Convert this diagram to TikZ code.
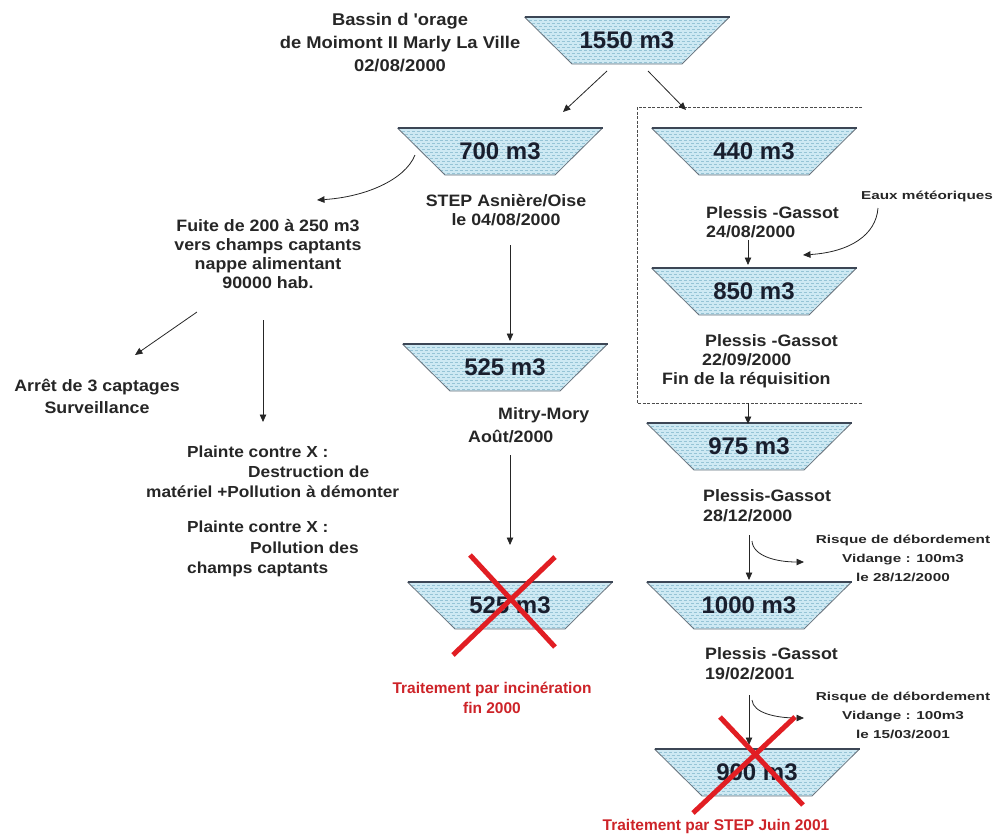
\documentclass[tikz,border=0pt]{standalone}
\usepackage{fontspec}
\setmainfont{Liberation Sans}
\newfontfamily\widefont[FakeStretch=1.08]{Liberation Sans}
\newfontfamily\smallfont[FakeStretch=1.33]{Liberation Sans}
\usetikzlibrary{arrows.meta,calc}
\definecolor{tankblue}{RGB}{206,233,243}
\definecolor{tankdash}{RGB}{150,196,214}
\definecolor{tankedgec}{RGB}{105,115,125}
\definecolor{tanktopc}{RGB}{60,70,85}
\definecolor{tanktext}{RGB}{25,30,45}
\definecolor{xred}{RGB}{225,30,35}
\definecolor{redtext}{RGB}{205,35,40}
\newcommand{\tank}[4]{%
  \begin{scope}[shift={(#2,#3)}]
    \fill[tankblue] (-102.5,0) -- (102.5,0) -- (55,47) -- (-55,47) -- cycle;
    \begin{scope}
      \clip (-102.5,0) -- (102.5,0) -- (55,47) -- (-55,47) -- cycle;
      \foreach \yy in {3,9,...,46} \draw[tankwave] (-103,\yy) -- (103,\yy);
      \foreach \yy in {6,12,...,46} \draw[tankwave, dash phase=2.5pt] (-103,\yy) -- (103,\yy);
    \end{scope}
    \draw[tankedge] (102.5,0) -- (55,47) -- (-55,47) -- (-102.5,0);
    \draw[tanktop] (-102.5,0) -- (102.5,0);
    \node[tank] (#1) at (0,23.5) {#4};
  \end{scope}
}
\begin{document}
\begin{tikzpicture}[x=1pt,y=-1pt,
  tank/.style={minimum width=205pt, minimum height=47pt, inner sep=0pt,
    font=\bfseries\fontsize{24}{26}\selectfont, text=tanktext},
  tankwave/.style={draw=tankdash, line width=0.9pt, dash pattern=on 3pt off 2pt},
  tankedge/.style={draw=tankedgec, line width=0.8pt},
  tanktop/.style={draw=tanktopc, line width=1.6pt},
  lbl/.style={inner sep=0pt, font=\widefont\bfseries\fontsize{16.5}{19}\selectfont, text=black!85},
  small/.style={inner sep=0pt, font=\smallfont\bfseries\fontsize{11.5}{19}\selectfont, text=black!85, align=center},
  redlbl/.style={inner sep=0pt, font=\bfseries\fontsize{15.5}{20}\selectfont, text=redtext, align=center},
  arr/.style={-{Triangle[length=7.5pt,width=6.5pt]}, line width=0.8pt, draw=black!85},
  boxdash/.style={draw=black!70, line width=0.8pt, dash pattern=on 3pt off 1.5pt},
  redx/.style={draw=xred, line width=5pt}
]
\useasboundingbox (0,0) rectangle (999,836);

% tanks
\tank{t1550}{627}{17}{1550 m3}
\tank{t700}{500}{128}{700 m3}
\tank{t440}{754}{128}{440 m3}
\tank{t850}{754}{268}{850 m3}
\tank{t525a}{505}{344}{525 m3}
\tank{t525b}{510}{582}{525 m3}
\tank{t975}{749}{423}{975 m3}
\tank{t1000}{749}{582}{1000 m3}
\tank{t900}{757}{749}{900 m3}

% dashed box
\draw[boxdash] (862,107) -- (637,107) -- (637,403) -- (862,403);

% text labels
\node[lbl, align=center, anchor=north, font=\widefont\bfseries\fontsize{17}{23}\selectfont] (bassin) at (400,13) {Bassin d 'orage\\de Moimont II Marly La Ville\\02/08/2000};
\node[lbl, align=center, anchor=north] (step) at (506,194) {STEP Asnière/Oise\\le 04/08/2000};
\node[lbl, align=left, anchor=north west] (p440) at (706,206) {Plessis -Gassot\\24/08/2000};
\node[small] (eaux) at (927,196) {Eaux météoriques};
\node[lbl, align=left, anchor=north west] (p850) at (662,334) {\hspace*{43pt}Plessis -Gassot\\\hspace*{40pt}22/09/2000\\Fin de la réquisition};
\node[lbl, align=left, anchor=north west, font=\widefont\bfseries\fontsize{16.5}{20.5}\selectfont] (p975) at (703,489) {Plessis-Gassot\\28/12/2000};
\node[lbl, align=left, anchor=north west, font=\widefont\bfseries\fontsize{16.5}{20}\selectfont] (p1000) at (705,647) {Plessis -Gassot\\19/02/2001};
\node[small, anchor=north] (risque1) at (903,535) {Risque de débordement\\Vidange : 100m3\\le 28/12/2000};
\node[small, anchor=north] (risque2) at (903,692) {Risque de débordement\\Vidange : 100m3\\le 15/03/2001};
\node[lbl, align=center, anchor=north] (fuite) at (268,219) {Fuite de 200 à 250 m3\\vers champs captants\\nappe alimentant\\90000 hab.};
\node[lbl, align=center, anchor=north, font=\widefont\bfseries\fontsize{16.5}{21.5}\selectfont] (arret) at (97,379) {Arrêt de 3 captages\\Surveillance};
\node[lbl, align=left, anchor=north west, font=\widefont\bfseries\fontsize{16}{20}\selectfont] (plainte1) at (146,446) {\hspace*{41pt}Plainte contre X :\\\hspace*{102pt}Destruction de\\matériel +Pollution à démonter};
\node[lbl, align=left, anchor=north west, font=\widefont\bfseries\fontsize{16}{20.5}\selectfont] (plainte2) at (187,521) {Plainte contre X :\\\hspace*{63pt}Pollution des\\champs captants};
\node[lbl, align=left, anchor=north west, font=\widefont\bfseries\fontsize{16.5}{23}\selectfont] (mitry) at (468,407) {\hspace*{30pt}Mitry-Mory\\Août/2000};
\node[redlbl, anchor=north] (trait1) at (492,682) {Traitement par incinération\\fin 2000};
\node[redlbl, anchor=north] (trait2) at (716,819) {Traitement par STEP Juin 2001};

% connector end points
\coordinate (a1s) at (607,71);  \coordinate (a1e) at (563,112);
\coordinate (a2s) at (648,71);  \coordinate (a2e) at (686,110);
\coordinate (c1s) at (415,155); \coordinate (c1e) at (317,200);
\coordinate (a4s) at (197,312); \coordinate (a4e) at (135,355);
\coordinate (a5s) at (263,320); \coordinate (a5e) at (263,422);
\coordinate (a6s) at (510,245); \coordinate (a6e) at (510,341);
\coordinate (a7s) at (510,455); \coordinate (a7e) at (510,545);
\coordinate (c2s) at (878,208); \coordinate (c2e) at (803,255);
\coordinate (a9s) at (748,240); \coordinate (a9e) at (748,265);
\coordinate (a10s) at (748,403); \coordinate (a10e) at (748,424);
\coordinate (a11s) at (749,535); \coordinate (a11e) at (749,580);
\coordinate (c3s) at (752,541); \coordinate (c3e) at (804,562);
\coordinate (a13s) at (749,695); \coordinate (a13e) at (749,745);
\coordinate (c4s) at (752,700); \coordinate (c4e) at (804,718);

\draw[arr] (a1s) -- (a1e);
\draw[arr] (a2s) -- (a2e);
\draw[arr] (c1s) .. controls (405,180) and (365,197) .. (c1e);
\draw[arr] (a4s) -- (a4e);
\draw[arr] (a5s) -- (a5e);
\draw[arr] (a6s) -- (a6e);
\draw[arr] (a7s) -- (a7e);
\draw[arr] (c2s) .. controls (876,235) and (850,252) .. (c2e);
\draw[arr] (a9s) -- (a9e);
\draw[arr] (a10s) -- (a10e);
\draw[arr] (a11s) -- (a11e);
\draw[arr] (c3s) .. controls (753,556) and (776,562) .. (c3e);
\draw[arr] (a13s) -- (a13e);
\draw[arr] (c4s) .. controls (753,713) and (776,718) .. (c4e);

% red crosses
\draw[redx] (470,555) -- (555,647);
\draw[redx] (555,557) -- (453,655);
\draw[redx] (720,717) -- (803,805);
\draw[redx] (795,717) -- (693,813);
\end{tikzpicture}
\end{document}
